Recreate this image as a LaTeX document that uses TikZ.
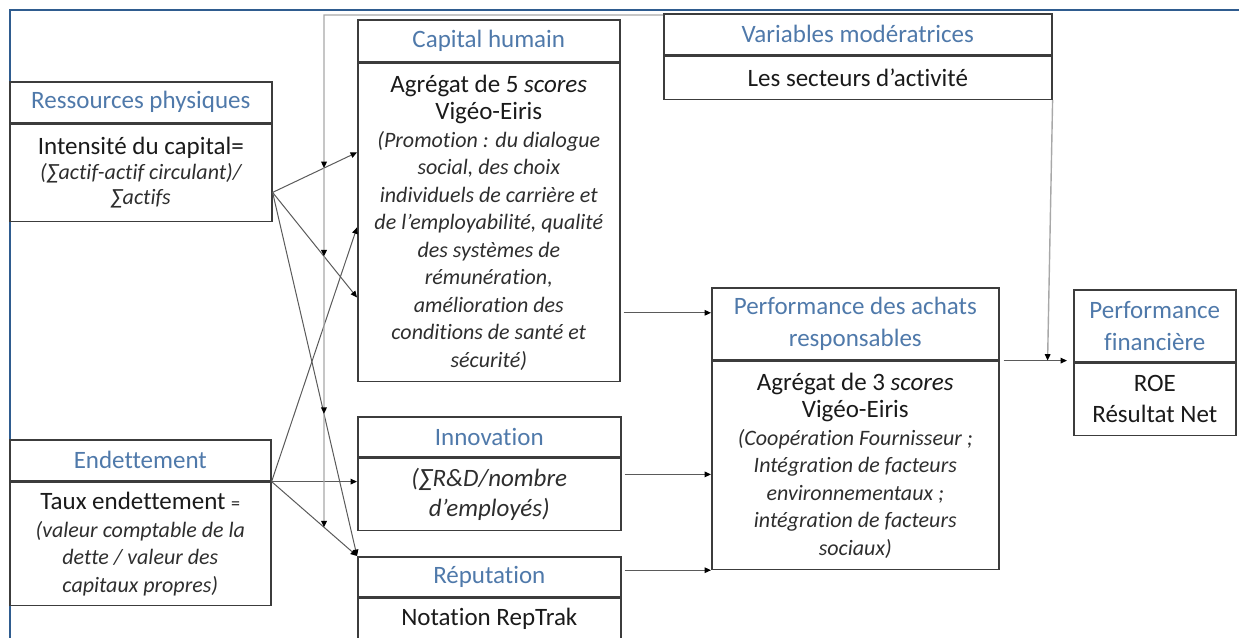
\documentclass[tikz,border=0pt]{standalone}
\usepackage{fontspec}
\setmainfont{Carlito}[Ligatures=NoCommon]
\usetikzlibrary{arrows.meta,calc}
\definecolor{framec}{HTML}{2F5C8F}
\definecolor{hdrc}{RGB}{79,121,170}
\definecolor{boxc}{HTML}{3C3C3C}
\definecolor{txtc}{HTML}{1A1A1A}
\definecolor{itc}{HTML}{2E2E2E}
\definecolor{connc}{HTML}{5A5A5A}
\definecolor{modc}{HTML}{A8A8A8}
\newcommand\smit[1]{{\fontsize{11}{13.75}\selectfont\itshape\color{itc}#1}}
\begin{document}
\begin{tikzpicture}[x=0.5pt,y=-0.5pt,
  box/.style={draw=boxc,line width=0.8pt,inner sep=0pt,align=center,anchor=north west},
  hdr/.style={box,text=hdrc,font=\fontsize{12.5}{16}\selectfont},
  bdy/.style={box,text=txtc,font=\fontsize{12.5}{13.75}\selectfont},
  tip/.style={-{Triangle[length=3.2pt,width=2.8pt,color=black]}},
  conn/.style={draw=connc,line width=0.5pt,tip},
  modl/.style={draw=modc,line width=0.7pt,tip},
  frame/.style={draw=framec,line width=1.3pt}]
\useasboundingbox (0,0) rectangle (1239,638);
\draw[frame] (10,638) -- (10,10) -- (1239,10);

% Ressources physiques
\node[hdr,minimum width=131pt,minimum height=20.5pt] (rph) at (9,81) {Ressources physiques};
\node[bdy,minimum width=131pt,minimum height=48.5pt,font=\fontsize{12.5}{12.5}\selectfont] (rpb) at (rph.south west)
  {Intensité du capital=\\ \smit{(∑actif-actif circulant)/}\\ \smit{∑actifs}};
% Endettement
\node[hdr,minimum width=130.5pt,minimum height=20.5pt] (endh) at (9,439) {Endettement};
\node[bdy,minimum width=130.5pt,minimum height=61.5pt] (endb) at (endh.south west)
  {Taux endettement {\fontsize{9}{10}\selectfont =}\\ \smit{(valeur comptable de la}\\ \smit{dette / valeur des}\\ \smit{capitaux propres)}};
% Capital humain
\node[hdr,minimum width=131pt,minimum height=21pt] (chh) at (357,19) {Capital humain};
\node[bdy,minimum width=131pt,minimum height=159pt] (chb) at (chh.south west)
  {Agrégat de 5 \textit{scores}\\ Vigéo-Eiris\\ \smit{(Promotion : du dialogue}\\ \smit{social, des choix}\\
   \smit{individuels de carrière et}\\ \smit{de l’employabilité, qualité}\\ \smit{des systèmes de}\\
   \smit{rémunération,}\\ \smit{amélioration des}\\ \smit{conditions de santé et}\\ \smit{sécurité)}};
% Innovation
\node[hdr,minimum width=131.5pt,minimum height=20pt] (innh) at (357,416) {Innovation};
\node[bdy,minimum width=131.5pt,minimum height=36pt,font=\fontsize{12.5}{15}\selectfont] (innb) at (innh.south west)
  {{\itshape\color{itc}(∑R\&D/nombre}\\ {\itshape\color{itc}d’employés)}};
% Reputation
\node[hdr,minimum width=131.5pt,minimum height=20pt] (reph) at (357,556) {Réputation};
\node[bdy,minimum width=131.5pt,minimum height=20pt] (repb) at (reph.south west) {Notation RepTrak};
% Variables moderatrices
\node[hdr,minimum width=194pt,minimum height=20.5pt] (varh) at (663,13) {Variables modératrices};
\node[bdy,minimum width=194pt,minimum height=21.5pt] (varb) at (varh.south west) {Les secteurs d’activité};
% Performance des achats
\node[hdr,minimum width=143.5pt,minimum height=36pt] (pah) at (711,287) {Performance des achats\\ responsables};
\node[bdy,minimum width=143.5pt,minimum height=104pt] (pab) at (pah.south west)
  {Agrégat de 3 \textit{scores}\\ Vigéo-Eiris\\ \smit{(Coopération Fournisseur ;}\\ \smit{Intégration de facteurs}\\
   \smit{environnementaux ;}\\ \smit{intégration de facteurs}\\ \smit{sociaux)}};
% Performance financiere
\node[hdr,minimum width=81pt,minimum height=36pt] (pfh) at (1073,289) {Performance\\ financière};
\node[bdy,minimum width=81pt,minimum height=36pt,font=\fontsize{12.5}{15.5}\selectfont] (pfb) at (pfh.south west) {ROE\\ Résultat Net};

% connection points
\coordinate (rpo) at ([yshift=-9.75pt]rpb.east);
\coordinate (ch1) at ([yshift=35pt]chb.west);
\coordinate (ch2) at ([yshift=-37.5pt]chb.west);
\coordinate (ch3) at ([yshift=-2.5pt]chb.west);
\coordinate (endo) at (endb.north east);
\coordinate (rnw) at (reph.north west);
\coordinate (inw) at (endo -| innb.west);

\draw[conn] (rpo) -- (ch1);
\draw[conn] (rpo) -- (ch2);
\draw[conn] (rpo) -- (rnw);
\draw[conn] (endo) -- (ch3);
\draw[conn] (endo) -- (inw);
\draw[conn] (endo) -- (rnw);

\coordinate (pa1) at ([yshift=5.5pt]pah.west);
\coordinate (c1) at (pa1 -| chb.east);
\draw[conn,shorten <=1.5pt] (c1) -- (pa1);
\coordinate (pa2) at ([yshift=-4.5pt]pab.west);
\coordinate (c2) at (pa2 -| innb.east);
\draw[conn,shorten <=1.5pt] (c2) -- (pa2);
\coordinate (c3) at (pab.south west -| reph.east);
\draw[conn,shorten <=1.5pt] (c3) -- (pab.south west);
\coordinate (pfi) at (pab.north east -| pfh.west);
\draw[conn,shorten <=2pt,shorten >=3pt] (pab.north east) -- (pfi);

% moderator lines
\coordinate (vm) at ($(pab.north east -| varb.south east)+(-5,0)$);
\draw[modl] (varb.south east) -- (vm);
\coordinate (vs) at ([yshift=-1pt]varh.north west);
\coordinate (vt) at ($(vs -| chh.west)+(-33,0)$);
\coordinate (vb) at ($(vt)+(0,600)$);
\coordinate (i1) at (intersection of rpo--ch1 and vt--vb);
\coordinate (i2) at (intersection of rpo--ch2 and vt--vb);
\coordinate (i3) at (intersection of rpo--rnw and vt--vb);
\coordinate (i4) at (intersection of endo--rnw and vt--vb);
\draw[modl] (vs) -- (vt) -- (i1);
\draw[modl] (i1) -- (i2);
\draw[modl] (i2) -- (i3);
\draw[modl] (i3) -- (i4);
\end{tikzpicture}
\end{document}
